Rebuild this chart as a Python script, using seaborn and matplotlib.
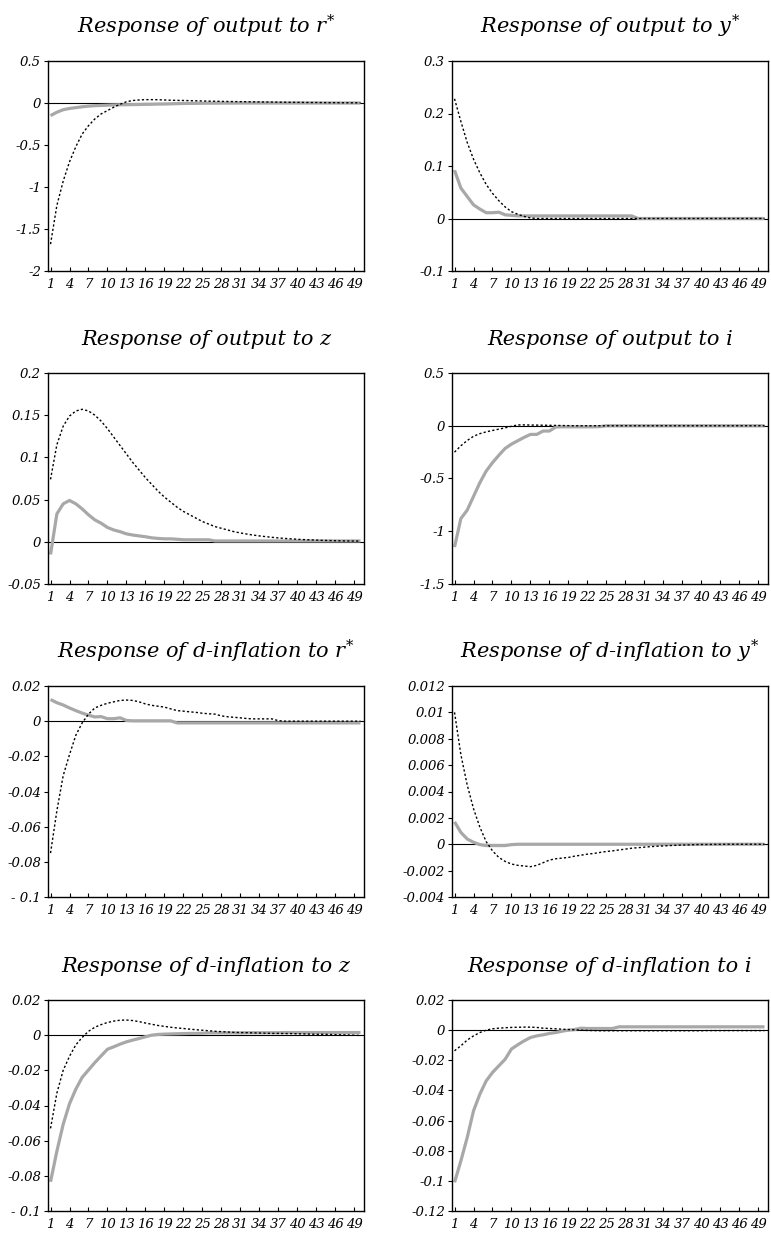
import numpy as np
import pandas as pd
import matplotlib
matplotlib.use("Agg")
import matplotlib.pyplot as plt
import seaborn as sns

# ---- data: impulse responses over 50 periods ----
periods = list(range(1, 51))

out_rstar_solid = [-0.15, -0.11, -0.08, -0.065, -0.055, -0.045, -0.037, -0.032, -0.029, -0.026,
                   -0.023, -0.021, -0.02, -0.019, -0.018, -0.016, -0.015, -0.013, -0.012, -0.01,
                   -0.008, -0.006, -0.005, -0.004, -0.003, -0.002, -0.002, -0.001, -0.001, -0.001,
                   0, 0, 0, 0, 0, 0, 0, 0, 0, 0, 0, 0, 0, 0, 0, 0, 0, 0, 0, 0]
out_rstar_dotted = [-1.68, -1.22, -0.93, -0.70, -0.52, -0.37, -0.27, -0.19, -0.13, -0.09,
                    -0.05, -0.015, 0.015, 0.03, 0.036, 0.04, 0.04, 0.039, 0.036, 0.033,
                    0.031, 0.03, 0.028, 0.026, 0.024, 0.022, 0.021, 0.019, 0.018, 0.017,
                    0.016, 0.015, 0.014, 0.013, 0.012, 0.011, 0.01, 0.009, 0.008, 0.008,
                    0.007, 0.006, 0.006, 0.005, 0.004, 0.004, 0.003, 0.003, 0.002, 0.002]

out_ystar_solid = [0.092, 0.058, 0.042, 0.026, 0.018, 0.011, 0.011, 0.012, 0.007, 0.006,
                   0.005, 0.005, 0.005, 0.005, 0.005, 0.005, 0.005, 0.005, 0.005, 0.005,
                   0.005, 0.005, 0.005, 0.005, 0.005, 0.005, 0.005, 0.005, 0.005, 0.0,
                   0, 0, 0, 0, 0, 0, 0, 0, 0, 0, 0, 0, 0, 0, 0, 0, 0, 0, 0, 0]
out_ystar_dotted = [0.228, 0.185, 0.145, 0.113, 0.087, 0.065, 0.048, 0.034, 0.022, 0.013,
                    0.008, 0.004, 0.001, 0, 0, 0, 0, 0, 0, 0, 0, 0, 0, 0, 0,
                    0, 0, 0, 0, 0, 0, 0, 0, 0, 0, 0, 0, 0, 0, 0, 0, 0, 0, 0, 0,
                    0, 0, 0, 0, 0]

out_z_solid = [-0.015, 0.033, 0.045, 0.049, 0.045, 0.039, 0.032, 0.026, 0.022, 0.017,
               0.014, 0.012, 0.0094, 0.008, 0.007, 0.006, 0.0047, 0.004, 0.0035, 0.0035,
               0.003, 0.0024, 0.0024, 0.0024, 0.0024, 0.0024, 0.001, 0.001, 0.001, 0.001,
               0.001, 0.001, 0.001, 0.001, 0.001, 0.001, 0.001, 0.001, 0.001, 0.001,
               0.001, 0.001, 0.001, 0.001, 0.001, 0.001, 0.001, 0.001, 0.001, 0.001]
out_z_dotted = [0.074, 0.115, 0.137, 0.149, 0.155, 0.157, 0.155, 0.150, 0.143, 0.134,
                0.124, 0.114, 0.104, 0.094, 0.085, 0.076, 0.068, 0.060, 0.053, 0.047,
                0.041, 0.036, 0.032, 0.028, 0.024, 0.021, 0.018, 0.016, 0.014, 0.012,
                0.0105, 0.0092, 0.008, 0.007, 0.0061, 0.0053, 0.0046, 0.004, 0.0035, 0.003,
                0.0026, 0.0023, 0.002, 0.0017, 0.0015, 0.0013, 0.0011, 0.001, 0.0009, 0.0008]

out_i_solid = [-1.15, -0.88, -0.80, -0.67, -0.54, -0.43, -0.35, -0.28, -0.215, -0.174,
               -0.142, -0.11, -0.082, -0.082, -0.05, -0.05, -0.012, -0.01, -0.01, -0.01,
               -0.01, -0.01, -0.01, -0.008, 0, 0, 0, 0, 0, 0, 0, 0, 0, 0, 0,
               0, 0, 0, 0, 0, 0, 0, 0, 0, 0, 0, 0, 0, 0, 0]
out_i_dotted = [-0.25, -0.19, -0.14, -0.10, -0.075, -0.058, -0.045, -0.032, -0.02, -0.005,
                0.008, 0.008, 0.007, 0.006, 0.005, 0.004, 0.003, 0.002, 0.001, 0,
                0, 0, 0, 0, 0, 0, 0, 0, 0, 0, 0, 0, 0, 0, 0, 0, 0, 0, 0, 0,
                0, 0, 0, 0, 0, 0, 0, 0, 0, 0]

inf_rstar_solid = [0.0123, 0.0105, 0.0092, 0.0075, 0.006, 0.0046, 0.0034, 0.0024, 0.0026, 0.0014,
                   0.0014, 0.0019, 0.0004, 0.0002, 0.0002, 0.0002, 0.0002, 0.0002, 0.0002, 0.0002,
                   -0.001, -0.001, -0.001, -0.001, -0.001, -0.001, -0.001, -0.001, -0.001, -0.001,
                   -0.001, -0.001, -0.001, -0.001, -0.001, -0.001, -0.001, -0.001, -0.001, -0.001,
                   -0.001, -0.001, -0.001, -0.001, -0.001, -0.001, -0.001, -0.001, -0.001, -0.001]
inf_rstar_dotted = [-0.075, -0.051, -0.031, -0.019, -0.008, -0.001, 0.004, 0.0075, 0.009, 0.0102,
                    0.011, 0.0118, 0.012, 0.0118, 0.011, 0.0098, 0.009, 0.0085, 0.008, 0.007,
                    0.006, 0.0057, 0.0053, 0.005, 0.0045, 0.0042, 0.004, 0.003, 0.0025, 0.0022,
                    0.0019, 0.0015, 0.0013, 0.0013, 0.0013, 0.0013, 0.0003, 0, 0, 0,
                    0, 0, 0, 0, 0, 0, 0, 0, 0, 0]

inf_ystar_solid = [0.0017, 0.0009, 0.0004, 0.00015, -0.00003, -0.0001, -0.0001, -0.0001, -0.0001, -0.00003,
                   0, 0, 0, 0, 0, 0, 0, 0, 0, 0, 0, 0, 0, 0, 0,
                   0, 0, 0, 0, 0, 0, 0, 0, 0, 0, 0, 0, 0, 0, 0,
                   0, 0, 0, 0, 0, 0, 0, 0, 0, 0]
inf_ystar_dotted = [0.0100, 0.0068, 0.0045, 0.0027, 0.0013, 0.0002, -0.0005, -0.001, -0.0013, -0.0015,
                    -0.0016, -0.00165, -0.0017, -0.0016, -0.0014, -0.0012, -0.0011, -0.00105, -0.001, -0.0009,
                    -0.00083, -0.00075, -0.0007, -0.00062, -0.00055, -0.0005, -0.00043, -0.00037, -0.0003, -0.00026,
                    -0.00022, -0.00018, -0.00015, -0.00013, -0.0001, -0.00008, -0.00006, -0.00005, -0.00003, -0.00002,
                    -0.00002, -0.00001, -0.00001, 0, 0, 0, 0, 0, 0, 0]

inf_z_solid = [-0.0834, -0.066, -0.0507, -0.039, -0.0307, -0.024, -0.0198, -0.0156, -0.0118, -0.008,
               -0.0066, -0.0051, -0.0038, -0.0028, -0.0019, -0.0009, 0.0, 0.0004, 0.0006, 0.0007,
               0.0008, 0.0009, 0.001, 0.001, 0.0011, 0.0013, 0.0013, 0.0013, 0.0013, 0.0013,
               0.0013, 0.0014, 0.0014, 0.0014, 0.0014, 0.0014, 0.0014, 0.0015, 0.0015, 0.0015,
               0.0015, 0.0015, 0.0015, 0.0015, 0.0015, 0.0015, 0.0015, 0.0015, 0.0015, 0.0015]
inf_z_dotted = [-0.053, -0.033, -0.020, -0.012, -0.0055, -0.0013, 0.0022, 0.0045, 0.006, 0.0072,
                0.008, 0.0085, 0.0086, 0.0083, 0.0077, 0.0069, 0.0062, 0.0055, 0.005, 0.0045,
                0.0041, 0.0038, 0.0034, 0.0031, 0.0028, 0.0025, 0.0022, 0.002, 0.0018, 0.0016,
                0.0015, 0.0014, 0.0013, 0.0012, 0.0011, 0.001, 0.001, 0.0009, 0.0009, 0.0008,
                0.0007, 0.0006, 0.0005, 0.0005, 0.0004, 0.0003, 0.0002, 0.0001, 0.0, -0.0002]

inf_i_solid = [-0.101, -0.0868, -0.0713, -0.0536, -0.0425, -0.0337, -0.0281, -0.0237, -0.0193, -0.0125,
               -0.0097, -0.0071, -0.0049, -0.0038, -0.0031, -0.0022, -0.0016, -0.0007, 0.0, 0.0004,
               0.0013, 0.0011, 0.0011, 0.0011, 0.0011, 0.0011, 0.0022, 0.0022, 0.0022, 0.0022,
               0.0022, 0.0022, 0.0022, 0.0022, 0.0022, 0.0022, 0.0022, 0.0022, 0.0022, 0.0022,
               0.0022, 0.0022, 0.0022, 0.0022, 0.0022, 0.0022, 0.0022, 0.0022, 0.0022, 0.0022]
inf_i_dotted = [-0.0137, -0.0104, -0.0066, -0.0038, -0.0016, 0.0, 0.0009, 0.0013, 0.0016, 0.0018,
                0.0019, 0.002, 0.002, 0.0018, 0.0013, 0.0011, 0.0009, 0.0006, 0.0004, 0.0002,
                0.0, -0.0002, -0.0003, -0.0004, -0.0004, -0.0004, -0.0004, -0.0004, -0.0004, -0.0004,
                -0.0004, -0.0004, -0.0004, -0.0004, -0.0004, -0.0004, -0.0004, -0.0004, -0.0004, -0.0004,
                -0.0003, -0.0003, -0.0003, -0.0003, -0.0003, -0.0003, -0.0003, -0.0003, -0.0003, -0.0003]

titles = [
    r"Response of output to $r^{*}$",
    r"Response of output to $y^{*}$",
    "Response of output to z",
    "Response of output to i",
    r"Response of d-inflation to $r^{*}$",
    r"Response of d-inflation to $y^{*}$",
    "Response of d-inflation to z",
    "Response of d-inflation to i",
]

y_ticks = [
    [-2, -1.5, -1, -0.5, 0, 0.5],
    [-0.1, 0, 0.1, 0.2, 0.3],
    [-0.05, 0, 0.05, 0.1, 0.15, 0.2],
    [-1.5, -1, -0.5, 0, 0.5],
    [-0.1, -0.08, -0.06, -0.04, -0.02, 0, 0.02],
    [-0.004, -0.002, 0, 0.002, 0.004, 0.006, 0.008, 0.01, 0.012],
    [-0.1, -0.08, -0.06, -0.04, -0.02, 0, 0.02],
    [-0.12, -0.1, -0.08, -0.06, -0.04, -0.02, 0, 0.02],
]
y_tick_labels = [
    ["-2", "-1.5", "-1", "-0.5", "0", "0.5"],
    ["-0.1", "0", "0.1", "0.2", "0.3"],
    ["-0.05", "0", "0.05", "0.1", "0.15", "0.2"],
    ["-1.5", "-1", "-0.5", "0", "0.5"],
    ["- 0.1", "-0.08", "-0.06", "-0.04", "-0.02", "0", "0.02"],
    ["-0.004", "-0.002", "0", "0.002", "0.004", "0.006", "0.008", "0.01", "0.012"],
    ["- 0.1", "-0.08", "-0.06", "-0.04", "-0.02", "0", "0.02"],
    ["-0.12", "-0.1", "-0.08", "-0.06", "-0.04", "-0.02", "0", "0.02"],
]
x_ticks = list(range(1, 50, 3))

solid_series = [out_rstar_solid, out_ystar_solid, out_z_solid, out_i_solid,
                inf_rstar_solid, inf_ystar_solid, inf_z_solid, inf_i_solid]
dotted_series = [out_rstar_dotted, out_ystar_dotted, out_z_dotted, out_i_dotted,
                 inf_rstar_dotted, inf_ystar_dotted, inf_z_dotted, inf_i_dotted]

# ---- style ----
sns.set_theme(style="ticks")
plt.rcParams.update({
    "font.family": ["DejaVu Serif"],
    "font.style": "italic",
    "mathtext.fontset": "custom",
    "mathtext.it": "DejaVu Serif:italic",
    "mathtext.rm": "DejaVu Serif:italic",
    "text.color": "black",
    "axes.labelcolor": "black",
    "axes.titlecolor": "black",
    "xtick.color": "black",
    "ytick.color": "black",
    "xtick.labelcolor": "black",
    "ytick.labelcolor": "black",
    "axes.edgecolor": "black",
    "axes.linewidth": 1.0,
})

W, H = 771, 1235
fig = plt.figure(figsize=(W / 100, H / 100), dpi=100)
fig.patch.set_facecolor("white")

col_left = [48, 452]
col_width = 316
row_top = [61, 373, 686, 1000]
row_height = [210, 211, 211, 211]

for k in range(8):
    r, c = divmod(k, 2)
    left = col_left[c] / W
    bottom = 1 - (row_top[r] + row_height[r]) / H
    ax = fig.add_axes([left, bottom, col_width / W, row_height[r] / H])
    ax.set_facecolor("white")

    df = pd.DataFrame({"period": periods,
                       "solid": solid_series[k],
                       "dotted": dotted_series[k]})

    ax.axhline(0, color="black", lw=0.8, zorder=1)
    sns.lineplot(data=df, x="period", y="solid", ax=ax, color="#a8a8a8",
                 lw=2.3, zorder=2, solid_capstyle="butt")
    sns.lineplot(data=df, x="period", y="dotted", ax=ax, color="black",
                 lw=1.0, zorder=3, linestyle=(0, (1.6, 1.6)))

    ax.set_xlim(0.6, 50.55)
    ax.set_ylim(y_ticks[k][0], y_ticks[k][-1])
    ax.set_xticks(x_ticks)
    ax.set_xticklabels([str(t) for t in x_ticks])
    ax.set_yticks(y_ticks[k])
    ax.set_yticklabels(y_tick_labels[k])
    ax.set_xlabel("")
    ax.set_ylabel("")

    ax.tick_params(axis="x", direction="in", length=3, width=0.8, pad=5,
                   labelsize=9.5, color="black", labelcolor="black")
    ax.tick_params(axis="y", direction="out", length=3, width=0.8, pad=2,
                   labelsize=9.5, color="black", labelcolor="black")
    for lab in ax.get_xticklabels() + ax.get_yticklabels():
        lab.set_fontstyle("italic")

    for sp in ax.spines.values():
        sp.set_visible(True)
        sp.set_color("black")
        sp.set_linewidth(1.0)

    ax.set_title(titles[k], fontsize=15, fontstyle="italic", pad=20, color="black")

fig.savefig("out.png", dpi=100, facecolor="white")
